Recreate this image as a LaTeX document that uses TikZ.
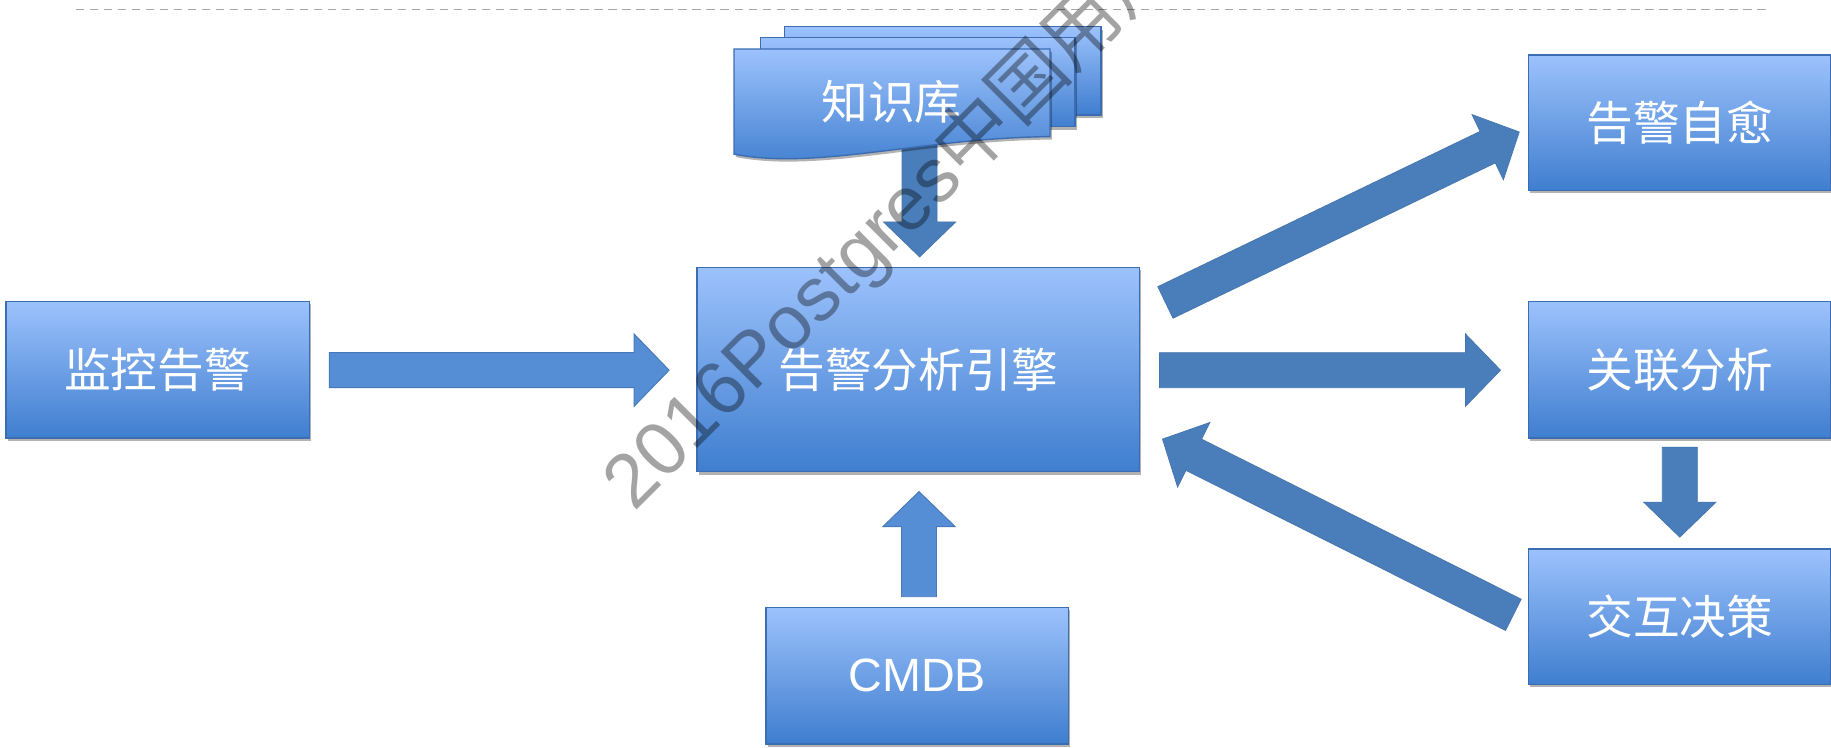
\documentclass[tikz,border=0pt]{standalone}
\usepackage{fontspec}
\setmainfont{Liberation Sans}
\newfontfamily\cjk{Noto Sans CJK SC}
\usetikzlibrary{shadows,calc}
\definecolor{boxtop}{HTML}{9CC2FC}
\definecolor{boxbot}{HTML}{3F7ECF}
\definecolor{boxline}{HTML}{3C6DB3}
\definecolor{arrA}{HTML}{558ED5}
\definecolor{arrB}{HTML}{4A7EBB}
\definecolor{arrlineA}{HTML}{4779BA}
\definecolor{arrlineB}{HTML}{4474AE}
\tikzset{
  shad/.style={drop shadow={shadow xshift=1.5pt, shadow yshift=-2.5pt, opacity=0.3, fill=black}},
  bx/.style={draw=boxline, line width=1.2pt, top color=boxtop, bottom color=boxbot,
    text=white, font=\cjk\fontsize{40}{48}\selectfont, inner sep=0pt, shad},
  docsh/.style={draw=boxline, line width=1.2pt, top color=boxtop, bottom color=boxbot, shad},
  arrowA/.style={fill=arrA, draw=arrlineA, line width=0.8pt},
  arrowB/.style={fill=arrB, draw=arrlineB, line width=0.6pt},
}
\newcommand{\barrow}[3]{%
  \coordinate (hb) at ($(#3)!30pt!(#2)$);
  \path[#1] ($(#2)!15pt!90:(#3)$) -- ($(hb)!15pt!90:(#3)$) -- ($(hb)!31pt!90:(#3)$) -- (#3)
    -- ($(hb)!31pt!-90:(#3)$) -- ($(hb)!15pt!-90:(#3)$) -- ($(#2)!15pt!-90:(#3)$) -- cycle;}
\begin{document}
\begin{tikzpicture}[x=1pt,y=-1pt]
\path[use as bounding box, fill=white] (0,0) rectangle (1568,640);
% dashed rule
\coordinate (dl) at (65,8); \coordinate (dr) at (1515,8);
\draw[black!35, line width=1pt, dash pattern=on 7pt off 5pt] (dl) -- (dr);

% arrow end points
\coordinate (a1t) at (282,317);  \coordinate (a1h) at (573,317);
\coordinate (a2t) at (993,317);  \coordinate (a2h) at (1285,317);
\coordinate (a3t) at (998,259);  \coordinate (a3h) at (1301,113);
\coordinate (a4t) at (1296,526.5); \coordinate (a4h) at (995.5,376);
\coordinate (a5t) at (787.5,124); \coordinate (a5h) at (787.5,220);
\coordinate (a6t) at (787,511);  \coordinate (a6h) at (787,421);
\coordinate (a7t) at (1438.5,383); \coordinate (a7h) at (1438.5,460);

\barrow{arrowA}{a1t}{a1h}
\barrow{arrowB}{a2t}{a2h}
\barrow{arrowB}{a3t}{a3h}
\barrow{arrowB}{a4t}{a4h}
\barrow{arrowB}{a5t}{a5h}
\barrow{arrowA}{a6t}{a6h}
\barrow{arrowB}{a7t}{a7h}

% knowledge base (multi-document)
\path[docsh] (672,22.8) rectangle (943,98.5);
\path[docsh] (651,32.3) rectangle (920.6,108.5);
\path[docsh] (628.6,42) -- (899.2,42) -- (899.2,117)
   .. controls (790,118) and (700,146) .. (628.6,132) -- cycle;
\node[text=white, font=\cjk\fontsize{40}{48}\selectfont] (kb) at (763.5,87) {知识库};

% boxes
\node[bx, minimum width=260pt, minimum height=117pt] (mon) at (135,316.5) {监控告警};
\node[bx, minimum width=379pt, minimum height=175pt] (eng) at (786.5,316.5) {告警分析引擎};
\node[bx, minimum width=259pt, minimum height=117pt] (cmdb) at (785.5,578.5) {\rmfamily CMDB};
\node[bx, minimum width=259pt, minimum height=116pt] (heal) at (1438.5,105) {告警自愈};
\node[bx, minimum width=259pt, minimum height=117pt] (corr) at (1438.5,316.5) {关联分析};
\node[bx, minimum width=259pt, minimum height=116pt] (dec) at (1438.5,528) {交互决策};

% watermark
\node[rotate=45, anchor=base west, inner sep=0pt, text=black, text opacity=0.36,
      font=\cjk\fontsize{65}{70}\selectfont] (wm) at (543,439) {{\rmfamily 2016Postgres}中国用户};
\end{tikzpicture}
\end{document}
